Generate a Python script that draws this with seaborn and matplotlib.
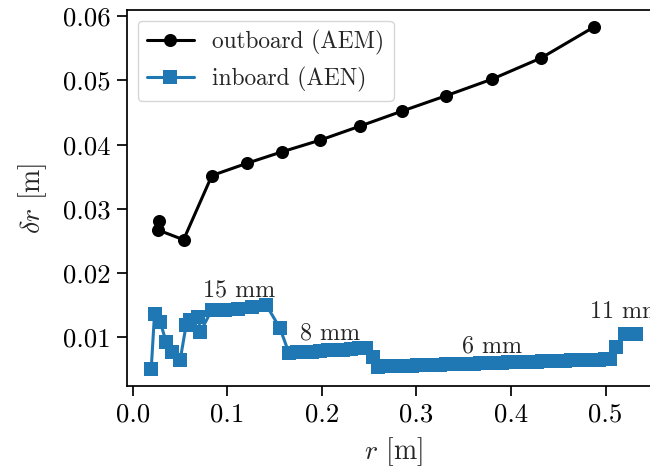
import matplotlib
matplotlib.use("Agg")
import matplotlib.pyplot as plt
import seaborn as sns
import pandas as pd

# ---- data ----
out_r = [0.028, 0.027, 0.0536, 0.0836, 0.1206, 0.158, 0.198, 0.2405, 0.2843,
         0.331, 0.380, 0.432, 0.4876]
out_dr = [0.0281, 0.0267, 0.0252, 0.0352, 0.0371, 0.0389, 0.0407, 0.0429, 0.0452,
          0.0476, 0.0502, 0.0535, 0.0583]

in_r = [0.0194, 0.0229, 0.0289, 0.0352, 0.0412, 0.0500, 0.0563, 0.0600, 0.0690,
        0.0715, 0.0835, 0.0976, 0.1117, 0.1264, 0.1409, 0.1557,
        0.1650, 0.1732, 0.1814, 0.1896, 0.1978, 0.2060, 0.2142, 0.2224, 0.2306,
        0.2388, 0.2466, 0.2544,
        0.259, 0.265, 0.271, 0.277, 0.283, 0.289, 0.295, 0.301, 0.307, 0.313,
        0.319, 0.325, 0.331, 0.337, 0.343, 0.349, 0.355, 0.361, 0.367, 0.373,
        0.379, 0.385, 0.391, 0.397, 0.403, 0.409, 0.415, 0.421, 0.427, 0.433,
        0.439, 0.445, 0.451, 0.457, 0.463, 0.469, 0.475, 0.481, 0.487, 0.493,
        0.499, 0.505,
        0.5116, 0.521, 0.532]
in_dr = [0.0051, 0.0137, 0.0124, 0.0093, 0.0077, 0.0065, 0.0119, 0.0127, 0.0132,
         0.0109, 0.0143, 0.0143, 0.0145, 0.0147, 0.0151, 0.0114,
         0.0076, 0.0077, 0.0078, 0.0078, 0.0079, 0.0080, 0.0081, 0.0081, 0.0082,
         0.0083, 0.0083, 0.0069,
         0.00545, 0.00548, 0.00551, 0.00554, 0.00556, 0.00559, 0.00562, 0.00565,
         0.00568, 0.00571, 0.00574, 0.00576, 0.00579, 0.00582, 0.00585, 0.00588,
         0.00591, 0.00593, 0.00596, 0.00599, 0.00602, 0.00605, 0.00608, 0.00611,
         0.00613, 0.00616, 0.00619, 0.00622, 0.00625, 0.00628, 0.00630, 0.00633,
         0.00636, 0.00639, 0.00642, 0.00645, 0.00648, 0.00650, 0.00653, 0.00656,
         0.00659, 0.00662,
         0.0085, 0.0106, 0.0106]

labels = ["15 mm", "8 mm", "6 mm", "11 mm"]
label_r = [0.1124, 0.209, 0.380, 0.4836]
label_dr = [0.0173, 0.0106, 0.0086, 0.0139]

# ---- style ----
sns.set_style("ticks")
plt.rcParams.update({
    "font.family": "serif",
    "font.serif": ["cmr10"],
    "mathtext.fontset": "cm",
    "axes.formatter.use_mathtext": True,
    "font.size": 17,
    "axes.linewidth": 1.25,
    "axes.edgecolor": "black",
    "xtick.major.size": 7,
    "ytick.major.size": 7,
    "xtick.major.width": 1.25,
    "ytick.major.width": 1.25,
    "xtick.major.pad": 5,
    "ytick.major.pad": 5,
    "xtick.color": "black",
    "ytick.color": "black",
    "axes.unicode_minus": False,
})

fig = plt.figure(figsize=(6.5, 4.71), dpi=100)
ax = fig.add_axes([127 / 650, 1 - 386 / 471, (660 - 127) / 650, (386 - 10) / 471])

df_out = pd.DataFrame({"r": out_r, "dr": out_dr})
df_in = pd.DataFrame({"r": in_r, "dr": in_dr})

sns.lineplot(data=df_out, x="r", y="dr", sort=False, estimator=None, ax=ax,
             color="black", marker="o", markersize=9.4, markeredgewidth=0,
             linewidth=2.2, label="outboard (AEM)")
sns.lineplot(data=df_in, x="r", y="dr", sort=False, estimator=None, ax=ax,
             color="#1f77b4", marker="s", markersize=9.4, markeredgewidth=0,
             linewidth=2.2, label="inboard (AEN)")

for t, xr, yr in zip(labels, label_r, label_dr):
    ax.text(xr, yr, t, ha="center" if t != "11 mm" else "left", va="center",
            fontsize=17.3)

ax.set_xlabel(r"$r$ [m]", fontsize=20, labelpad=6)
ax.set_ylabel(r"$\delta r$ [m]", fontsize=20, labelpad=10)
ax.set_xticks([0.0, 0.1, 0.2, 0.3, 0.4, 0.5])
ax.set_yticks([0.01, 0.02, 0.03, 0.04, 0.05, 0.06])
ax.set_xticklabels(["0.0", "0.1", "0.2", "0.3", "0.4", "0.5"])
ax.set_yticklabels(["0.01", "0.02", "0.03", "0.04", "0.05", "0.06"])
ax.tick_params(labelsize=19.3)
ax.margins(0.05)

ax.legend(loc="upper left", frameon=True, fancybox=True, framealpha=0.8,
          edgecolor="0.8", fontsize=16.8, borderaxespad=0.45)
ax.grid(False)

fig.savefig("out.png", dpi=100)
